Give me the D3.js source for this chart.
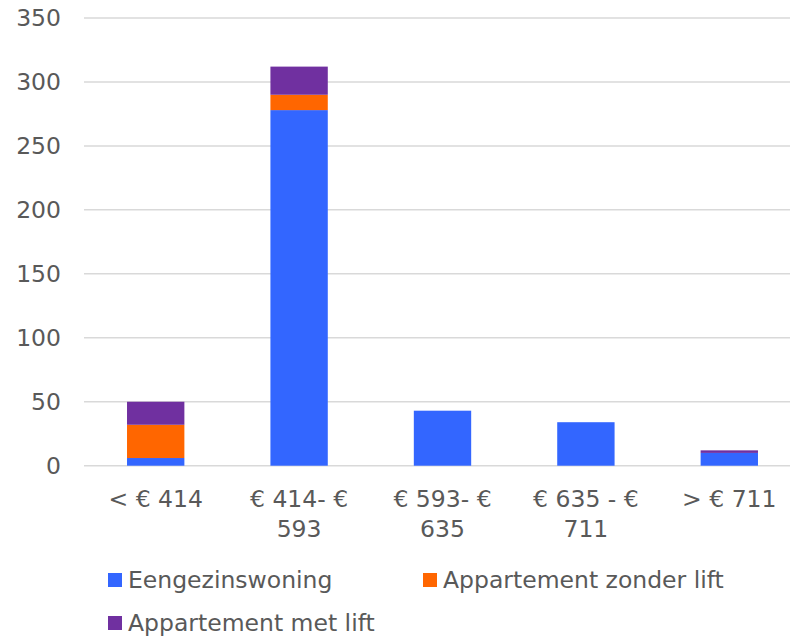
<!DOCTYPE html>
<html>
<head>
<meta charset="utf-8">
<script src="https://cdn.jsdelivr.net/npm/d3@7"></script>
<style>
  body { margin: 0; background: #fff; }
  text { font-family: "DejaVu Sans", Verdana, sans-serif; fill: #595959; }
</style>
</head>
<body>
<div id="chart"></div>
<script>
const categories = [["< € 414"], ["€ 414- €", "593"], ["€ 593- €", "635"], ["€ 635 - €", "711"], ["> € 711"]];
const seriesNames = ["Eengezinswoning", "Appartement zonder lift", "Appartement met lift"];
const eengezinswoning = [6, 278, 43, 34, 10];
const zonderLift = [26, 12, 0, 0, 0];
const metLift = [18, 22, 0, 0, 2];
const yTicks = [0, 50, 100, 150, 200, 250, 300, 350];
const colors = ["#3366ff", "#ff6600", "#7030a0"];

const width = 790, height = 638;
const margin = { top: 18, left: 84, bottom: 173 };
const plotRight = 801;
const fontSize = "23.5px";

const svg = d3.select("#chart")
  .append("svg")
  .attr("width", width)
  .attr("height", height);

const rows = categories.map((c, i) => ({
  key: i,
  [seriesNames[0]]: eengezinswoning[i],
  [seriesNames[1]]: zonderLift[i],
  [seriesNames[2]]: metLift[i]
}));

const stacked = d3.stack().keys(seriesNames)(rows);

const x = d3.scaleBand()
  .domain(categories.map((c, i) => i))
  .range([margin.left, plotRight])
  .paddingInner(0.6)
  .paddingOuter(0.3);

const y = d3.scaleLinear()
  .domain([0, 350])
  .range([height - margin.bottom + 0.7, margin.top]);

// gridlines
svg.append("g")
  .selectAll("line")
  .data(yTicks)
  .join("line")
    .attr("x1", margin.left)
    .attr("x2", plotRight)
    .attr("y1", d => y(d))
    .attr("y2", d => y(d))
    .attr("stroke", "#d9d9d9")
    .attr("stroke-width", 1.5);

// y axis labels
svg.append("g")
  .selectAll("text")
  .data(yTicks)
  .join("text")
    .attr("x", 61)
    .attr("y", d => y(d))
    .attr("dy", "0.36em")
    .attr("text-anchor", "end")
    .style("font-size", fontSize)
    .text(d => d);

// bars
svg.append("g")
  .selectAll("g")
  .data(stacked)
  .join("g")
    .attr("fill", (d, i) => colors[i])
  .selectAll("rect")
  .data(d => d)
  .join("rect")
    .attr("x", (d, i) => x(i))
    .attr("width", x.bandwidth())
    .attr("y", d => y(d[1]))
    .attr("height", d => y(d[0]) - y(d[1]));

// x labels
const xl = svg.append("g")
  .selectAll("text")
  .data(categories)
  .join("text")
    .attr("text-anchor", "middle")
    .attr("x", (d, i) => x(i) + x.bandwidth() / 2)
    .attr("y", 507)
    .style("font-size", fontSize);
xl.selectAll("tspan")
  .data(d => d)
  .join("tspan")
    .attr("x", function () { return d3.select(this.parentNode).attr("x"); })
    .attr("dy", (d, i) => i === 0 ? 0 : 30)
    .text(d => d);

// legend
const legendPos = [[108, 580], [423, 580], [108, 623]];
const lg = svg.append("g")
  .selectAll("g")
  .data(seriesNames)
  .join("g")
    .attr("transform", (d, i) => "translate(" + legendPos[i][0] + "," + legendPos[i][1] + ")");
lg.append("rect")
  .attr("x", 0)
  .attr("y", -7)
  .attr("width", 14)
  .attr("height", 14)
  .attr("fill", (d, i) => colors[i]);
lg.append("text")
  .attr("x", 20)
  .attr("y", 0)
  .attr("dy", "0.36em")
  .style("font-size", fontSize)
  .text(d => d);
</script>
</body>
</html>
